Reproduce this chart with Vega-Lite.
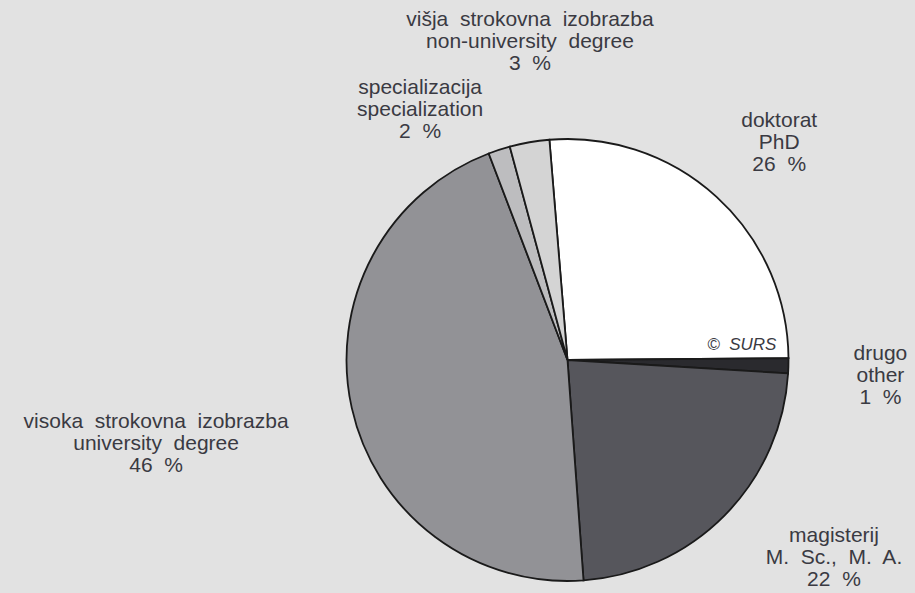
{
  "$schema": "https://vega.github.io/schema/vega-lite/v6.json",
  "width": 695,
  "height": 466,
  "autosize": "none",
  "padding": {"left": 220, "top": 127, "right": 0, "bottom": 0},
  "background": "#e2e2e2",
  "view": {"stroke": null},
  "data": {
    "values": [
      {"key": "doktorat", "order": 1, "value": 26.2, "label": "doktorat\nPhD\n26\u00a0 %"},
      {"key": "drugo", "order": 2, "value": 1.1, "label": "drugo\nother\n1\u00a0 %"},
      {"key": "magisterij", "order": 3, "value": 22.9, "label": "magisterij\nM.\u00a0 Sc.,\u00a0 M.\u00a0 A.\n22\u00a0 %"},
      {"key": "visoka", "order": 4, "value": 45.4, "label": "visoka\u00a0 strokovna\u00a0 izobrazba\nuniversity\u00a0 degree\n46\u00a0 %"},
      {"key": "specializacija", "order": 5, "value": 1.6, "label": "specializacija\nspecialization\n2\u00a0 %"},
      {"key": "visja", "order": 6, "value": 2.9, "label": "višja\u00a0 strokovna\u00a0 izobrazba\nnon-university\u00a0 degree\n3\u00a0 %"}
    ]
  },
  "encoding": {
    "theta": {"field": "value", "type": "quantitative", "stack": true, "scale": {"range": [-0.082, 6.2012]}},
    "order": {"field": "order", "type": "quantitative"}
  },
  "layer": [
    {
      "mark": {"type": "arc", "outerRadius": 221, "stroke": "#1a1a1a", "strokeWidth": 1.8},
      "encoding": {
        "color": {
          "field": "key", "type": "nominal", "legend": null,
          "scale": {
            "domain": ["doktorat", "drugo", "magisterij", "visoka", "specializacija", "visja"],
            "range": ["#ffffff", "#2a2a2e", "#56565c", "#929296", "#bdbdbf", "#d4d4d4"]
          }
        }
      }
    },
    {
      "mark": {"type": "text", "radius": 319.5, "thetaOffset": -0.016, "lineBreak": "\n", "font": "Liberation Sans", "fontSize": 21, "lineHeight": 22, "fill": "#3a3a42", "align": "center", "baseline": "middle"},
      "encoding": {"detail": {"field": "key"}, "text": {"condition": {"test": "datum.key === 'doktorat'", "field": "label"}, "value": ""}}
    },
    {
      "mark": {"type": "text", "radius": 313, "thetaOffset": -0.047, "lineBreak": "\n", "font": "Liberation Sans", "fontSize": 21, "lineHeight": 22, "fill": "#3a3a42", "align": "center", "baseline": "middle"},
      "encoding": {"detail": {"field": "key"}, "text": {"condition": {"test": "datum.key === 'drugo'", "field": "label"}, "value": ""}}
    },
    {
      "mark": {"type": "text", "radius": 319.5, "thetaOffset": -0.195, "lineBreak": "\n", "font": "Liberation Sans", "fontSize": 21, "lineHeight": 22, "fill": "#3a3a42", "align": "center", "baseline": "middle"},
      "encoding": {"detail": {"field": "key"}, "text": {"condition": {"test": "datum.key === 'magisterij'", "field": "label"}, "value": ""}}
    },
    {
      "mark": {"type": "text", "radius": 416, "thetaOffset": 0.07, "lineBreak": "\n", "font": "Liberation Sans", "fontSize": 21, "lineHeight": 22, "fill": "#3a3a42", "align": "center", "baseline": "middle"},
      "encoding": {"detail": {"field": "key"}, "text": {"condition": {"test": "datum.key === 'visoka'", "field": "label"}, "value": ""}}
    },
    {
      "mark": {"type": "text", "radius": 309, "thetaOffset": -0.183, "lineBreak": "\n", "font": "Liberation Sans", "fontSize": 21, "lineHeight": 22, "fill": "#3a3a42", "align": "center", "baseline": "middle"},
      "encoding": {"detail": {"field": "key"}, "text": {"condition": {"test": "datum.key === 'specializacija'", "field": "label"}, "value": ""}}
    },
    {
      "mark": {"type": "text", "radius": 342, "thetaOffset": 0.063, "lineBreak": "\n", "font": "Liberation Sans", "fontSize": 21, "lineHeight": 22, "fill": "#3a3a42", "align": "center", "baseline": "middle"},
      "encoding": {"detail": {"field": "key"}, "text": {"condition": {"test": "datum.key === 'visja'", "field": "label"}, "value": ""}}
    },
    {
      "mark": {"type": "text", "radius": 175, "thetaOffset": -0.113, "font": "Liberation Sans", "fontSize": 17, "fontStyle": "italic", "fill": "#3a3a42", "align": "center", "baseline": "middle"},
      "encoding": {"detail": {"field": "key"}, "text": {"condition": {"test": "datum.key === 'drugo'", "value": "©\u00a0 SURS"}, "value": ""}}
    }
  ]
}
